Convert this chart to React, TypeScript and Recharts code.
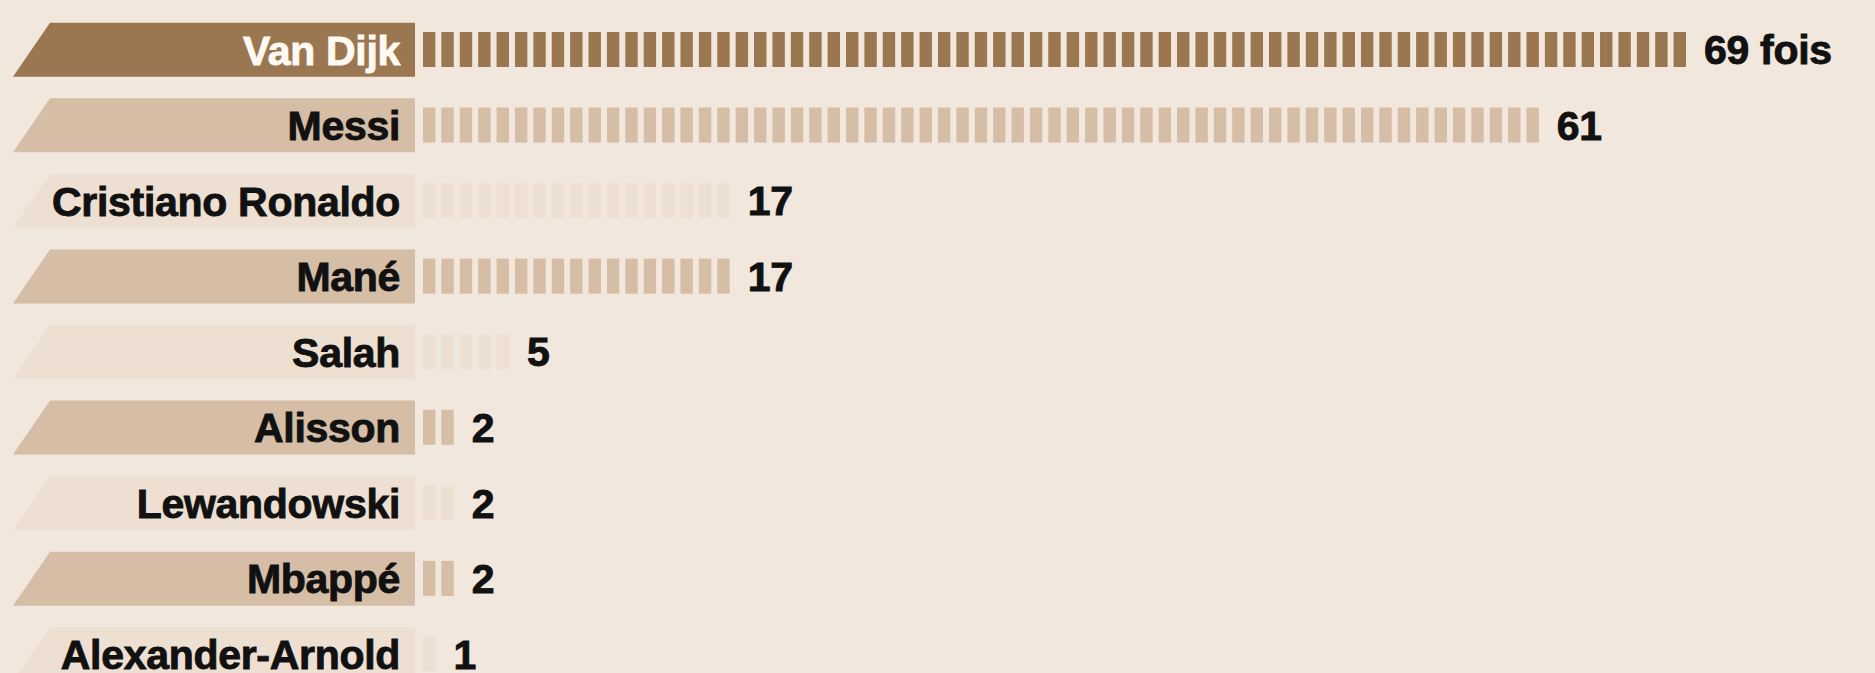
import { BarChart, Bar, XAxis, YAxis, LabelList } from 'recharts';

const players = [
  'Van Dijk',
  'Messi',
  'Cristiano Ronaldo',
  'Mané',
  'Salah',
  'Alisson',
  'Lewandowski',
  'Mbappé',
  'Alexander-Arnold',
];
const votes = [69, 61, 17, 17, 5, 2, 2, 2, 1];
const tones = ['dark', 'mid', 'pale', 'mid', 'pale', 'mid', 'pale', 'mid', 'pale'];
const firstSuffix = ' fois';

const BG = '#F2E7DC';
const TONE_FILL: Record<string, string> = {
  dark: '#9A7651',
  mid: '#D5BDA6',
  pale: '#EDE0D3',
};
const FONT = '"Liberation Sans", Arial, sans-serif';
const FONT_SIZE = 41;
const AXIS_W = 423;
const SEG_GAP = 6;

const data = players.map((name, i) => ({ name, value: votes[i], tone: tones[i] }));

// one little block per vote
function SegmentedBar(props: any) {
  const { x, y, width, height, payload } = props;
  const n = payload.value;
  if (!n || width <= 0) return null;
  const unit = width / n;
  const fill = TONE_FILL[payload.tone];
  const blocks = [];
  for (let i = 0; i < n; i++) {
    blocks.push(
      <rect key={i} x={x + i * unit} y={y} width={unit - SEG_GAP} height={height} fill={fill} />
    );
  }
  return <g>{blocks}</g>;
}

function NameTick(props: any) {
  const { y, payload, index } = props;
  const tone = tones[index] ?? 'pale';
  const right = AXIS_W - 8;
  const half = 27;
  const pts = `50,${y - half} ${right},${y - half} ${right},${y + half} 13,${y + half}`;
  const color = tone === 'dark' ? '#FFF9F2' : '#111111';
  return (
    <g>
      <polygon points={pts} fill={TONE_FILL[tone]} />
      <text
        x={right - 15}
        y={y + FONT_SIZE * 0.36}
        textAnchor="end"
        fontFamily={FONT}
        fontWeight={700}
        fontSize={FONT_SIZE}
        letterSpacing={-0.3}
        fill={color}
        stroke={color}
        strokeWidth={0.9}
      >
        {payload.value}
      </text>
    </g>
  );
}

function ValueLabel(props: any) {
  const { x, y, width, height, value, index } = props;
  const text = index === 0 ? `${value}${firstSuffix}` : `${value}`;
  return (
    <text
      x={x + width + 12}
      y={y + height / 2 + FONT_SIZE * 0.36}
      fontFamily={FONT}
      fontWeight={700}
      fontSize={FONT_SIZE}
      letterSpacing={-0.3}
      fill="#111111"
      stroke="#111111"
      strokeWidth={0.9}
    >
      {text}
    </text>
  );
}

export default function App() {
  return (
    <div
      style={{
        position: 'absolute',
        left: 0,
        top: 0,
        width: 1875,
        height: 673,
        overflow: 'hidden',
        background: BG,
      }}
    >
      <BarChart
        width={1875}
        height={692}
        data={data}
        layout="vertical"
        margin={{ top: 12, right: 183, bottom: 0, left: 0 }}
      >
        <XAxis type="number" domain={[0, 69]} hide />
        <YAxis
          type="category"
          dataKey="name"
          width={AXIS_W}
          axisLine={false}
          tickLine={false}
          tickSize={0}
          tickMargin={0}
          interval={0}
          tick={<NameTick />}
        />
        <Bar dataKey="value" barSize={35} shape={<SegmentedBar />} isAnimationActive={false}>
          <LabelList dataKey="value" content={<ValueLabel />} />
        </Bar>
      </BarChart>
    </div>
  );
}
